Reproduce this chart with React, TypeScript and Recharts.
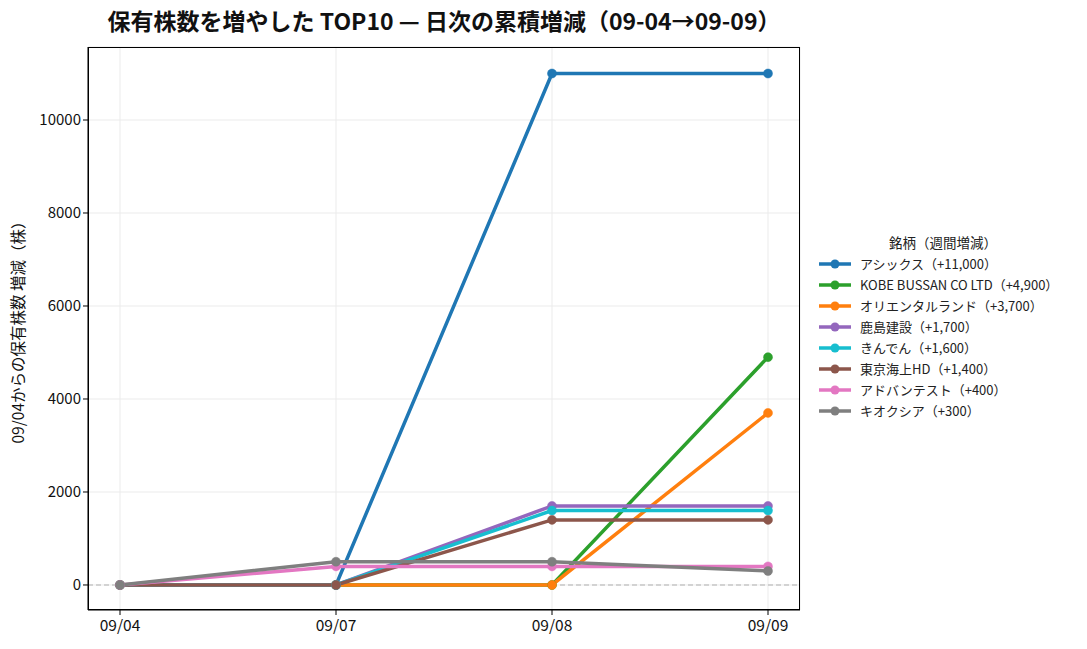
import React from 'react'
import {
  LineChart,
  Line,
  XAxis,
  YAxis,
  CartesianGrid,
  ReferenceLine,
} from 'recharts'

const dates = ['09/04', '09/07', '09/08', '09/09']

const names = [
  'アシックス',
  'KOBE BUSSAN CO LTD',
  'オリエンタルランド',
  '鹿島建設',
  'きんでん',
  '東京海上HD',
  'アドバンテスト',
  'キオクシア',
]
const weekly = ['+11,000', '+4,900', '+3,700', '+1,700', '+1,600', '+1,400', '+400', '+300']

const asics = [0, 0, 11000, 11000]
const kobe = [0, 0, 0, 4900]
const oriental = [0, 0, 0, 3700]
const kajima = [0, 0, 1700, 1700]
const kinden = [0, 0, 1600, 1600]
const tokioMarine = [0, 0, 1400, 1400]
const advantest = [0, 400, 400, 400]
const kioxia = [0, 500, 500, 300]

const yTicks = [0, 2000, 4000, 6000, 8000, 10000]

const colors = ['#1f77b4', '#2ca02c', '#ff7f0e', '#9467bd', '#17becf', '#8c564b', '#e377c2', '#7f7f7f']
const series = [asics, kobe, oriental, kajima, kinden, tokioMarine, advantest, kioxia]

const data = dates.map((d, i) => {
  const row: Record<string, string | number> = { date: d }
  series.forEach((s, k) => {
    row['s' + k] = s[i]
  })
  return row
})

const FONT = '"Noto Sans CJK JP", "Noto Sans", sans-serif'

const LegendBox = () => (
  <div
    style={{
      position: 'absolute',
      left: 812,
      top: 232,
      fontFamily: FONT,
      fontSize: 13,
      color: '#222',
    }}
  >
    <div style={{ textAlign: 'center', width: 262, marginBottom: 1, fontSize: 13.5 }}>銘柄（週間増減）</div>
    {names.map((n, k) => (
      <div key={n} style={{ display: 'flex', alignItems: 'center', height: 21 }}>
        <svg width={34} height={10} style={{ marginLeft: 6, marginRight: 8 }}>
          <line x1={1} y1={5} x2={33} y2={5} stroke={colors[k]} strokeWidth={3.5} />
          <circle cx={17} cy={5} r={4.5} fill={colors[k]} />
        </svg>
        <span>{n}（{weekly[k]}）</span>
      </div>
    ))}
  </div>
)

export default function App() {
  return (
    <div style={{ position: 'relative', width: 1087, height: 649, background: '#fff' }}>
      <style>{'body{margin:0}'}</style>
      <div
        style={{
          position: 'absolute',
          top: 3,
          left: 88,
          width: 712,
          textAlign: 'center',
          fontFamily: FONT,
          fontWeight: 700,
          fontSize: 23,
          color: '#111',
        }}
      >
        保有株数を増やした TOP10 — 日次の累積増減（09-04→09-09）
      </div>
      <LineChart
        width={1087}
        height={649}
        data={data}
        margin={{ top: 47, right: 287, bottom: 0, left: 0 }}
        style={{ position: 'absolute', top: 0, left: 0, fontFamily: FONT }}
      >
        <CartesianGrid stroke="#ebebeb" strokeWidth={1} />
        <XAxis
          dataKey="date"
          padding={{ left: 32, right: 32 }}
          height={39}
          stroke="#000"
          tickLine={{ stroke: '#000' }}
          tickSize={5}
          tick={{ fill: '#111', fontSize: 15.5, dy: 3 }}
        />
        <YAxis
          domain={[-538, 11570]}
          ticks={yTicks}
          width={88}
          stroke="#000"
          tickSize={5}
          tick={{ fill: '#111', fontSize: 15 }}
          label={{
            value: '09/04からの保有株数 増減（株）',
            angle: -90,
            position: 'insideLeft',
            offset: 18,
            style: { textAnchor: 'middle', fill: '#111', fontSize: 15.5 },
          }}
        />
        <ReferenceLine y={0} stroke="#b0b0b0" strokeDasharray="5 3" strokeWidth={1.2} />
        {series.map((_, k) => (
          <Line
            key={k}
            dataKey={'s' + k}
            name={names[k]}
            stroke={colors[k]}
            strokeWidth={3.5}
            dot={{ r: 4.5, fill: colors[k], stroke: colors[k], strokeWidth: 0.5 }}
            activeDot={false}
            isAnimationActive={false}
          />
        ))}
      </LineChart>
      <div
        style={{
          position: 'absolute',
          left: 88,
          top: 47,
          width: 712,
          height: 563,
          boxSizing: 'border-box',
          border: '1px solid #000',
          pointerEvents: 'none',
        }}
      />
      <LegendBox />
    </div>
  )
}
